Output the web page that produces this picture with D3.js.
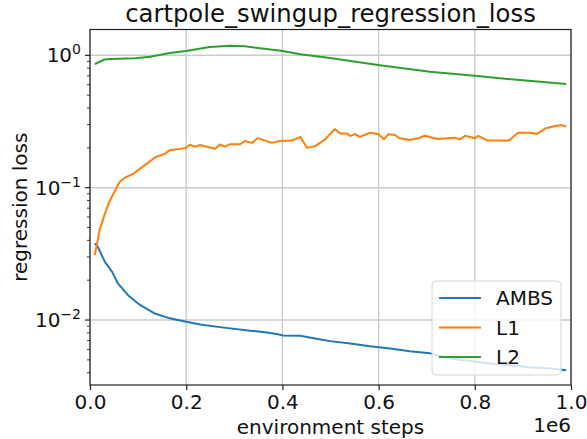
<!DOCTYPE html>
<html>
<head>
<meta charset="utf-8">
<title>cartpole_swingup_regression_loss</title>
<script src="https://d3js.org/d3.v7.min.js"></script>
<style>
  body { margin: 0; background: #fff; }
  svg { display: block; font-family: "DejaVu Sans", sans-serif; }
</style>
</head>
<body>
<svg id="chart"></svg>
<script>
// values (steps in thousands)
const ambsSteps = [10, 17, 21, 31, 46, 58, 79, 104, 135, 166, 200, 229, 270, 333, 364, 391, 401, 437, 468, 499, 541, 582, 624, 665, 707, 748, 790, 832, 873, 915, 956, 990];
const ambsLoss  = [0.0379, 0.0354, 0.0328, 0.0275, 0.0231, 0.0189, 0.0154, 0.0130, 0.0112, 0.0103, 0.0097, 0.00927, 0.00884, 0.0083, 0.0081, 0.0078, 0.00765, 0.0076, 0.00726, 0.00693, 0.00666, 0.00635, 0.0061, 0.00582, 0.0056, 0.00513, 0.0049, 0.0047, 0.00455, 0.0044, 0.0043, 0.00418];

const l1Steps = [10, 20, 30, 40, 56, 62, 73, 89, 114, 135, 156, 166, 198, 208, 218, 229, 260, 270, 281, 291, 312, 322, 337, 349, 378, 395, 420, 437, 451, 468, 489, 509, 520, 534, 541, 551, 561, 582, 599, 611, 620, 634, 644, 665, 682, 696, 723, 759, 769, 780, 800, 807, 827, 852, 867, 873, 890, 915, 929, 946, 967, 981, 990];
const l1Loss  = [0.031, 0.048, 0.062, 0.078, 0.1016, 0.111, 0.119, 0.127, 0.148, 0.169, 0.181, 0.192, 0.199, 0.211, 0.204, 0.210, 0.197, 0.212, 0.204, 0.213, 0.213, 0.225, 0.218, 0.237, 0.218, 0.225, 0.227, 0.242, 0.200, 0.206, 0.232, 0.277, 0.257, 0.257, 0.246, 0.254, 0.242, 0.26, 0.254, 0.232, 0.253, 0.25, 0.236, 0.229, 0.236, 0.247, 0.233, 0.238, 0.232, 0.247, 0.236, 0.246, 0.227, 0.227, 0.226, 0.23, 0.26, 0.26, 0.254, 0.28, 0.292, 0.297, 0.29];

const l2Steps = [10, 30, 42, 94, 125, 166, 200, 249, 291, 322, 401, 437, 499, 599, 707, 800, 894, 990];
const l2Loss  = [0.86, 0.93, 0.94, 0.95, 0.976, 1.04, 1.08, 1.155, 1.18, 1.17, 1.078, 1.017, 0.955, 0.845, 0.75, 0.70, 0.65, 0.607];

const seriesNames = ["AMBS", "L1", "L2"];
const xTicks = [0, 0.2, 0.4, 0.6, 0.8, 1.0];
const yTickExps = [0, -1, -2];

const W = 587, H = 439;
const margin = { top: 29.5, right: 16, bottom: 54, left: 90 };
const colors = ["#1f77b4", "#ff7f0e", "#2ca02c"];
const fs = 20;

const svg = d3.select("#chart").attr("width", W).attr("height", H);

const x = d3.scaleLinear().domain([0, 1e6]).range([margin.left, W - margin.right]);
const y = d3.scaleLog().domain([0.00323, 1.567]).range([H - margin.bottom, margin.top]);

const series = [
  { name: seriesNames[0], steps: ambsSteps, vals: ambsLoss },
  { name: seriesNames[1], steps: l1Steps, vals: l1Loss },
  { name: seriesNames[2], steps: l2Steps, vals: l2Loss }
].map((s, i) => ({ ...s, color: colors[i], pts: s.steps.map((k, j) => [k * 1000, s.vals[j]]) }));

// grid
const grid = svg.append("g").attr("stroke", "#cbcbcb").attr("stroke-width", 1.4);
grid.selectAll(".gx").data(xTicks).enter().append("line")
  .attr("x1", d => x(d * 1e6)).attr("x2", d => x(d * 1e6))
  .attr("y1", y.range()[0]).attr("y2", y.range()[1]);
grid.selectAll(".gy").data(yTickExps).enter().append("line")
  .attr("y1", d => y(Math.pow(10, d))).attr("y2", d => y(Math.pow(10, d)))
  .attr("x1", x.range()[0]).attr("x2", x.range()[1]);

// lines
const line = d3.line().x(d => x(d[0])).y(d => y(d[1]));
svg.append("g").selectAll("path").data(series).enter().append("path")
  .attr("d", d => line(d.pts))
  .attr("fill", "none")
  .attr("stroke", d => d.color)
  .attr("stroke-width", 2)
  .attr("stroke-linejoin", "round");

// x axis
const xAxis = svg.append("g")
  .attr("transform", `translate(0,${y.range()[0]})`)
  .call(d3.axisBottom(x).tickValues(xTicks.map(d => d * 1e6)).tickFormat(d => (d / 1e6).toFixed(1)).tickSizeInner(5).tickSizeOuter(0).tickPadding(5));
xAxis.select(".domain").remove();
xAxis.selectAll("line").attr("stroke", "#222").attr("stroke-width", 1.2);
xAxis.selectAll("text").attr("font-size", fs).attr("font-family", "DejaVu Sans").attr("fill", "#111");

// y axis ticks (major + minor)
const minor = [];
for (let e = -3; e <= 0; e++) for (let m = 2; m <= 9; m++) {
  const v = m * Math.pow(10, e);
  if (v >= y.domain()[0] && v <= y.domain()[1]) minor.push(v);
}
const yg = svg.append("g");
yg.selectAll(".minor").data(minor).enter().append("line")
  .attr("x1", margin.left - 3).attr("x2", margin.left)
  .attr("y1", d => y(d)).attr("y2", d => y(d))
  .attr("stroke", "#222").attr("stroke-width", 0.9);
yg.selectAll(".major").data(yTickExps).enter().append("line")
  .attr("x1", margin.left - 5).attr("x2", margin.left)
  .attr("y1", d => y(Math.pow(10, d))).attr("y2", d => y(Math.pow(10, d)))
  .attr("stroke", "#222").attr("stroke-width", 1.2);
const yl = yg.selectAll(".lab").data(yTickExps).enter().append("text")
  .attr("x", margin.left - 9)
  .attr("y", d => y(Math.pow(10, d)) + 7)
  .attr("text-anchor", "end")
  .attr("font-size", fs)
  .attr("fill", "#111");
yl.append("tspan").text("10");
yl.append("tspan").attr("dy", -8).attr("font-size", fs * 0.7).text(d => d === 0 ? "0" : "\u2212" + (-d));

// frame
svg.append("rect")
  .attr("x", x.range()[0]).attr("y", y.range()[1])
  .attr("width", x.range()[1] - x.range()[0])
  .attr("height", y.range()[0] - y.range()[1])
  .attr("fill", "none").attr("stroke", "#222").attr("stroke-width", 1.2);

// title & labels
const cx = (x.range()[0] + x.range()[1]) / 2;
svg.append("text").attr("x", cx).attr("y", 22).attr("text-anchor", "middle")
  .attr("font-size", 24.3).attr("fill", "#111").text("cartpole_swingup_regression_loss");
svg.append("text").attr("x", cx).attr("y", 434).attr("text-anchor", "middle")
  .attr("font-size", fs).attr("fill", "#111").text("environment steps");
svg.append("text").attr("x", x.range()[1]).attr("y", 432).attr("text-anchor", "end")
  .attr("font-size", fs).attr("fill", "#111").text("1e6");
const ymid = (y.range()[0] + y.range()[1]) / 2;
svg.append("text").attr("transform", `translate(27,${ymid}) rotate(-90)`).attr("text-anchor", "middle")
  .attr("font-size", fs).attr("fill", "#111").text("regression loss");

// legend
const lg = svg.append("g").attr("transform", `translate(${x.range()[1] - 139},${y.range()[0] - 104})`);
lg.append("rect").attr("width", 129).attr("height", 94).attr("rx", 4)
  .attr("fill", "#fff").attr("fill-opacity", 0.8).attr("stroke", "#d6d6d6").attr("stroke-width", 1);
const items = lg.selectAll(".item").data(series).enter().append("g")
  .attr("transform", (d, i) => `translate(0,${17 + i * 29.5})`);
items.append("line").attr("x1", 7).attr("x2", 49).attr("stroke", d => d.color).attr("stroke-width", 2);
items.append("text").attr("x", 64).attr("y", 7).attr("font-size", fs).attr("fill", "#111").text(d => d.name);
</script>
</body>
</html>
